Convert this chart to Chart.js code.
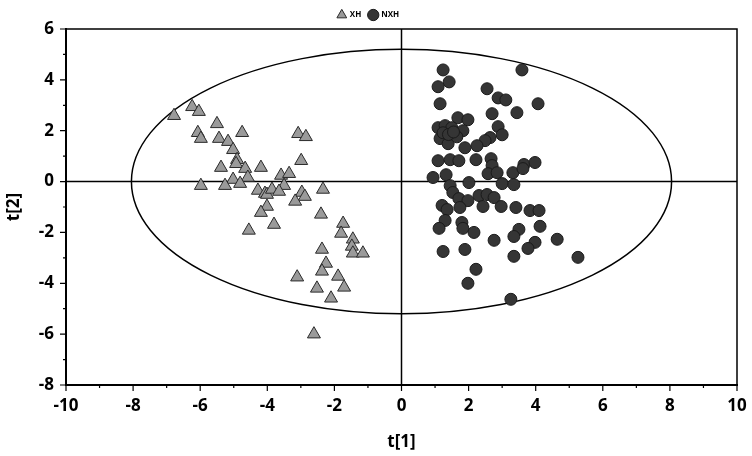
<!DOCTYPE html>
<html lang="en">
<head>
<meta charset="UTF-8" />
<title>t[1] / t[2] score plot</title>
<style>
  html, body { margin: 0; padding: 0; background: #fff; }
  #wrap { width: 752px; height: 456px; }
</style>
</head>
<body>
<div id="wrap"><canvas id="chart-1"></canvas></div>

<script src="https://cdn.jsdelivr.net/npm/chart.js"></script>
<script>
// XH group (grey triangles)
const xhT1 = [-6.78, -6.24, -6.04, -5.5, -6.07, -5.98, -4.75, -5.44, -5.17, -5.02,
  -4.9, -4.93, -5.38, -4.66, -4.19, -4.58, -5.02, -4.81, -5.98, -5.26,
  -4.28, -4.07, -3.59, -3.35, -3.5, -4.01, -3.86, -3.65, -2.97, -2.88,
  -3.17, -2.34, -4.01, -4.19, -2.4, -3.8, -4.55, -1.74, -1.8, -1.45,
  -1.48, -1.45, -1.15, -2.37, -2.25, -2.37, -1.89, -3.11, -2.52, -1.71,
  -2.1, -2.61, -3.08, -2.85, -2.99];
const xhT2 = [2.59, 2.94, 2.75, 2.27, 1.92, 1.69, 1.92, 1.69, 1.57, 1.25,
  0.86, 0.7, 0.55, 0.51, 0.55, 0.16, 0.08, -0.08, -0.16, -0.16,
  -0.35, -0.47, 0.24, 0.31, -0.16, -0.51, -0.31, -0.39, -0.43, -0.59,
  -0.78, -0.31, -0.98, -1.22, -1.29, -1.69, -1.92, -1.65, -2.04, -2.27,
  -2.55, -2.82, -2.82, -2.67, -3.22, -3.53, -3.73, -3.76, -4.2, -4.16,
  -4.59, -6.0, 1.88, 1.76, 0.82];

// NXH group (dark circles)
const nxhT1 = [1.24, 1.42, 1.09, 3.59, 2.55, 2.88, 3.11, 4.07, 1.15, 3.44,
  2.7, 1.68, 1.98, 1.09, 1.3, 1.5, 1.83, 1.15, 1.39, 1.65,
  1.24, 1.4, 1.55, 2.88, 3.0, 2.64, 2.49, 2.25, 1.89, 1.09,
  1.45, 1.71, 2.22, 2.67, 2.7, 3.65, 3.98, 3.32, 3.62, 0.94,
  1.33, 2.58, 2.85, 2.01, 1.45, 3.0, 3.35, 1.53, 1.71, 1.98,
  2.31, 2.55, 2.76, 2.43, 2.97, 3.41, 3.83, 4.1, 1.21, 1.36,
  1.74, 1.3, 1.12, 1.8, 1.83, 2.16, 3.5, 3.35, 4.13, 4.64,
  2.76, 3.98, 3.77, 1.24, 1.89, 3.35, 5.26, 2.22, 1.98, 3.26];
const nxhT2 = [4.39, 3.92, 3.73, 4.39, 3.65, 3.29, 3.21, 3.06, 3.06, 2.71,
  2.67, 2.51, 2.43, 2.12, 2.2, 2.12, 2.0, 1.69, 1.49, 1.76,
  1.92, 1.85, 1.95, 2.16, 1.84, 1.73, 1.61, 1.41, 1.33, 0.82,
  0.86, 0.82, 0.86, 0.9, 0.63, 0.67, 0.75, 0.35, 0.51, 0.16,
  0.27, 0.31, 0.35, -0.04, -0.16, -0.08, -0.12, -0.43, -0.67, -0.75,
  -0.55, -0.51, -0.63, -0.98, -0.98, -1.02, -1.14, -1.14, -0.94, -1.1,
  -1.02, -1.53, -1.84, -1.61, -1.84, -2.0, -1.88, -2.16, -1.76, -2.27,
  -2.31, -2.39, -2.63, -2.75, -2.67, -2.94, -2.98, -3.45, -4.0, -4.63];

const groupNames = ["XH", "NXH"];
const xRange = [-10, 10];
const yRange = [-8, 6];
// confidence ellipse semi-axes, in t[1] / t[2] units
const ellipseA = 8.05;
const ellipseB = 5.2;

const toPoints = (xs, ys) => xs.map((x, i) => ({ x: x, y: ys[i] }));

// ellipse, zero lines, frame and tick marks
const overlay = {
  id: "overlay",
  beforeDatasetsDraw(chart) {
    const { ctx, chartArea: a, scales: { x, y } } = chart;
    const cx = x.getPixelForValue(0);
    const cy = y.getPixelForValue(0);
    ctx.save();
    ctx.strokeStyle = "#000";
    ctx.lineWidth = 1.5;
    ctx.beginPath();
    ctx.moveTo(cx, a.top);
    ctx.lineTo(cx, a.bottom);
    ctx.moveTo(a.left, cy);
    ctx.lineTo(a.right, cy);
    ctx.stroke();

    const rx = x.getPixelForValue(ellipseA) - cx;
    const ry = cy - y.getPixelForValue(ellipseB);
    ctx.beginPath();
    ctx.ellipse(cx, cy, rx, ry, 0, 0, Math.PI * 2);
    ctx.stroke();
    ctx.restore();
  },
  afterDraw(chart) {
    const { ctx, chartArea: a, scales: { x, y } } = chart;
    ctx.save();
    ctx.strokeStyle = "#000";
    ctx.lineWidth = 1.5;
    ctx.beginPath();
    ctx.moveTo(a.left, a.top);
    ctx.lineTo(a.right, a.top);
    ctx.lineTo(a.right, a.bottom);
    ctx.stroke();

    ctx.lineWidth = 1.2;
    ctx.beginPath();
    for (let v = xRange[0]; v <= xRange[1]; v++) {
      const px = x.getPixelForValue(v);
      const len = v % 2 === 0 ? 6 : 3;
      ctx.moveTo(px, a.bottom);
      ctx.lineTo(px, a.bottom + len);
    }
    for (let v = yRange[0]; v <= yRange[1]; v++) {
      const py = y.getPixelForValue(v);
      const len = v % 2 === 0 ? 6 : 3;
      ctx.moveTo(a.left, py);
      ctx.lineTo(a.left - len, py);
    }
    ctx.stroke();
    ctx.restore();
  }
};

const tickFont = { family: "'Open Sans', sans-serif", size: 17, weight: "bold" };
const titleFont = { family: "'Open Sans', sans-serif", size: 17, weight: "bold" };

const ctx = document.getElementById("chart-1");
const chart = new Chart(ctx, {
  type: "scatter",
  data: {
    datasets: [
      {
        label: groupNames[0],
        data: toPoints(xhT1, xhT2),
        pointStyle: "triangle",
        pointRadius: 7.5,
        pointHoverRadius: 7.5,
        backgroundColor: "#9a9a9a",
        borderColor: "#2a2a2a",
        borderWidth: 1,
      },
      {
        label: groupNames[1],
        data: toPoints(nxhT1, nxhT2),
        pointStyle: "circle",
        pointRadius: 6,
        pointHoverRadius: 6,
        backgroundColor: "#353535",
        borderColor: "#1a1a1a",
        borderWidth: 1,
      },
    ],
  },
  options: {
    responsive: true,
    maintainAspectRatio: false,
    animation: false,
    layout: { padding: { left: 0, right: 15, top: 3, bottom: 0 } },
    plugins: {
      tooltip: { enabled: false },
      legend: {
        position: "top",
        labels: {
          usePointStyle: true,
          color: "#000",
          font: { family: "'Open Sans', sans-serif", size: 8, weight: "bold" },
          padding: 8,
        },
      },
    },
    scales: {
      x: {
        type: "linear",
        min: xRange[0],
        max: xRange[1],
        afterFit: (s) => { s.height = 71; s.paddingLeft = 0; s.paddingRight = 0; },
        grid: { display: false, drawTicks: false },
        border: { display: true, color: "#000", width: 2 },
        ticks: { stepSize: 2, color: "#000", font: tickFont, padding: 11 },
        title: { display: true, text: "t[1]", color: "#000", font: titleFont, padding: { top: 2 } },
      },
      y: {
        type: "linear",
        min: yRange[0],
        max: yRange[1],
        afterFit: (s) => { s.width = 66; s.paddingTop = 0; s.paddingBottom = 0; },
        grid: { display: false, drawTicks: false },
        border: { display: true, color: "#000", width: 2 },
        ticks: { stepSize: 2, color: "#000", font: tickFont, padding: 12 },
        title: { display: true, text: "t[2]", color: "#000", font: titleFont, padding: { bottom: 0 } },
      },
    },
  },
  plugins: [overlay],
});
</script>
</body>
</html>
